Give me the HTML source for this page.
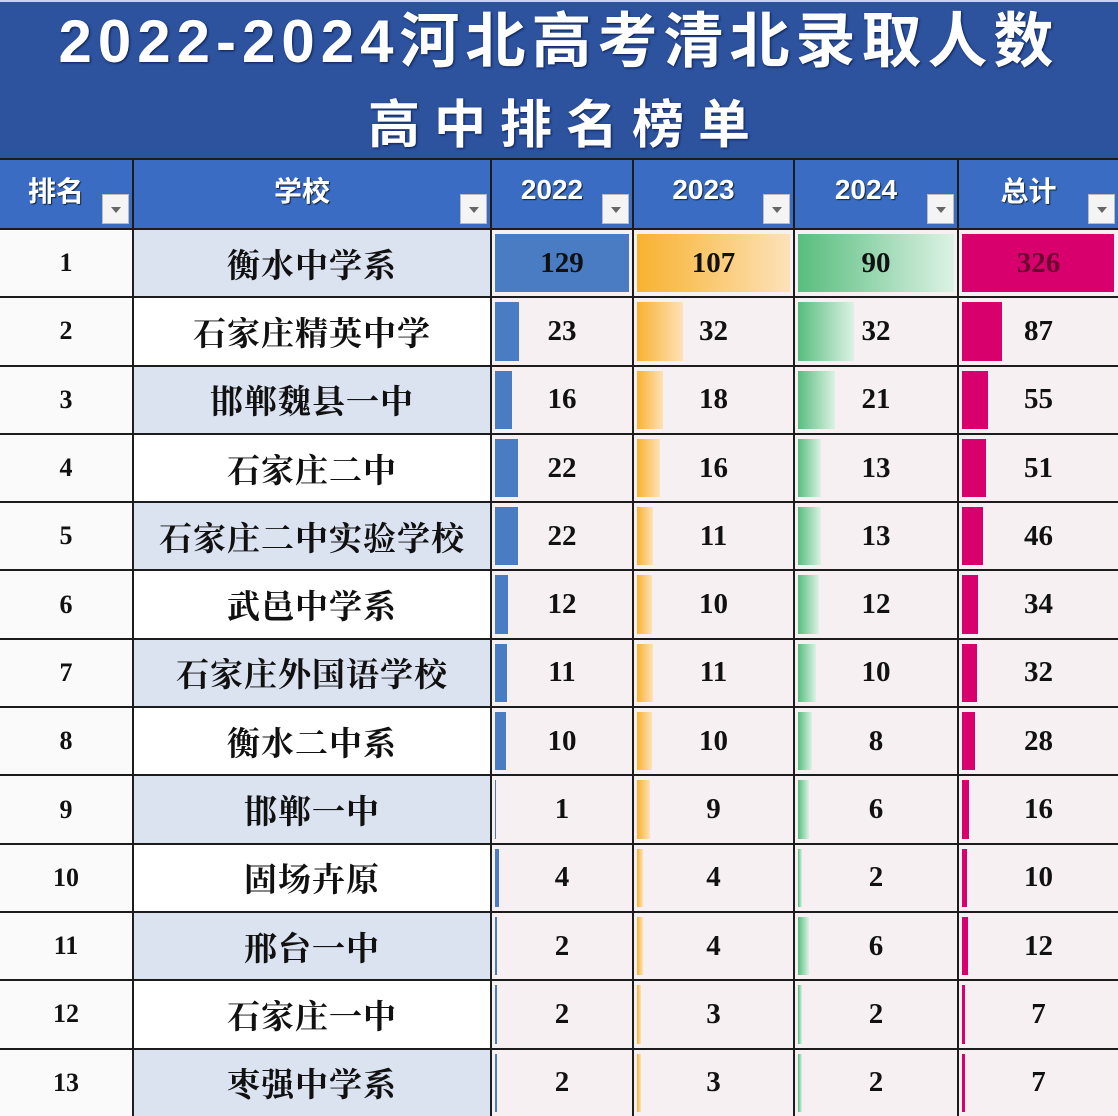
<!DOCTYPE html>
<html><head><meta charset="utf-8"><style>
*{margin:0;padding:0;box-sizing:border-box}
body{width:1118px;height:1116px;overflow:hidden;background:#fff;font-family:"Liberation Serif","Noto Serif CJK SC",serif;position:relative}
.banner{position:absolute;left:0;top:0;width:1118px;height:158px;background:#2d529e;border-top:2px solid #c8d4ea;overflow:hidden}
.t1{position:absolute;left:0;top:4px;width:1118px;text-align:center;color:#fff;font-family:"Liberation Sans","Noto Sans CJK SC",sans-serif;font-weight:bold;font-size:60px;line-height:72px;letter-spacing:6px;text-shadow:1px 1px 2px #0a1f50;white-space:nowrap}
.t2{position:absolute;left:0;top:88px;width:1118px;text-align:center;color:#fff;font-family:"Noto Sans CJK SC",sans-serif;font-weight:bold;font-size:52px;line-height:62px;letter-spacing:14px;text-indent:14px;text-shadow:1px 1px 2px #0a1f50}
.grid{position:absolute;left:0;top:158px;width:1118px;height:958px;background:#1c1c1c;padding-top:2px;display:grid;grid-template-columns:132px 356px 140px 159px 162px 159px;grid-template-rows:68px repeat(13,66.3px);gap:2px}
.h{background:#3a6cc4;color:#fff;font-family:"Noto Sans CJK SC",sans-serif;font-weight:bold;font-size:28px;position:relative;display:flex;align-items:center;justify-content:center;padding-bottom:8px;padding-right:20px;text-shadow:1px 1px 1px #123}
.h.n{font-family:"Liberation Sans",sans-serif;font-size:28px}
.h i{position:absolute;right:3px;bottom:4px;width:27px;height:30px;background:#f4f4f4;border:1px solid #bbb}
.h i:after{content:"";position:absolute;left:8px;top:12px;border-left:5px solid transparent;border-right:5px solid transparent;border-top:6px solid #666}
.c{position:relative;display:flex;align-items:center;justify-content:center;font-size:29px;font-weight:bold;color:#111;background:#f6f0f3}
.r{background:#fafafa;font-size:26px}
.s{background:#fff;font-size:33px;font-weight:bold;letter-spacing:1px}
.s.a{background:#dbe2f0}
.c span{position:relative;z-index:1}
.c b{position:absolute;left:3px;top:4px;bottom:4px}
.y2 b{background:#4a7cc4}
.y3 b{background:linear-gradient(90deg,#f8b230,#fde2b8)}
.y4 b{background:linear-gradient(90deg,#58bd7e,#dcf2e4)}
.y5 b{background:#d8006c}
</style></head><body>
<div class="banner"><div class="t1">2022-2024河北高考清北录取人数</div><div class="t2">高中排名榜单</div></div>
<div class="grid">
<div class="h">排名<i></i></div><div class="h">学校<i></i></div><div class="h n">2022<i></i></div><div class="h n">2023<i></i></div><div class="h n">2024<i></i></div><div class="h">总计<i></i></div>

<div class="c r">1</div><div class="c s a">衡水中学系</div><div class="c y2"><b style="width:134px"></b><span>129</span></div><div class="c y3"><b style="width:153px"></b><span>107</span></div><div class="c y4"><b style="width:156px"></b><span>90</span></div><div class="c y5"><b style="width:152px"></b><span style="color:#6a0030">326</span></div>
<div class="c r">2</div><div class="c s">石家庄精英中学</div><div class="c y2"><b style="width:24px"></b><span>23</span></div><div class="c y3"><b style="width:46px"></b><span>32</span></div><div class="c y4"><b style="width:56px"></b><span>32</span></div><div class="c y5"><b style="width:40px"></b><span>87</span></div>
<div class="c r">3</div><div class="c s a">邯郸魏县一中</div><div class="c y2"><b style="width:17px"></b><span>16</span></div><div class="c y3"><b style="width:26px"></b><span>18</span></div><div class="c y4"><b style="width:37px"></b><span>21</span></div><div class="c y5"><b style="width:26px"></b><span>55</span></div>
<div class="c r">4</div><div class="c s">石家庄二中</div><div class="c y2"><b style="width:23px"></b><span>22</span></div><div class="c y3"><b style="width:23px"></b><span>16</span></div><div class="c y4"><b style="width:23px"></b><span>13</span></div><div class="c y5"><b style="width:24px"></b><span>51</span></div>
<div class="c r">5</div><div class="c s a">石家庄二中实验学校</div><div class="c y2"><b style="width:23px"></b><span>22</span></div><div class="c y3"><b style="width:16px"></b><span>11</span></div><div class="c y4"><b style="width:23px"></b><span>13</span></div><div class="c y5"><b style="width:21px"></b><span>46</span></div>
<div class="c r">6</div><div class="c s">武邑中学系</div><div class="c y2"><b style="width:13px"></b><span>12</span></div><div class="c y3"><b style="width:15px"></b><span>10</span></div><div class="c y4"><b style="width:21px"></b><span>12</span></div><div class="c y5"><b style="width:16px"></b><span>34</span></div>
<div class="c r">7</div><div class="c s a">石家庄外国语学校</div><div class="c y2"><b style="width:12px"></b><span>11</span></div><div class="c y3"><b style="width:16px"></b><span>11</span></div><div class="c y4"><b style="width:18px"></b><span>10</span></div><div class="c y5"><b style="width:15px"></b><span>32</span></div>
<div class="c r">8</div><div class="c s">衡水二中系</div><div class="c y2"><b style="width:11px"></b><span>10</span></div><div class="c y3"><b style="width:15px"></b><span>10</span></div><div class="c y4"><b style="width:14px"></b><span>8</span></div><div class="c y5"><b style="width:13px"></b><span>28</span></div>
<div class="c r">9</div><div class="c s a">邯郸一中</div><div class="c y2"><b style="width:1px"></b><span>1</span></div><div class="c y3"><b style="width:13px"></b><span>9</span></div><div class="c y4"><b style="width:11px"></b><span>6</span></div><div class="c y5"><b style="width:7px"></b><span>16</span></div>
<div class="c r">10</div><div class="c s">固场卉原</div><div class="c y2"><b style="width:4px"></b><span>4</span></div><div class="c y3"><b style="width:6px"></b><span>4</span></div><div class="c y4"><b style="width:4px"></b><span>2</span></div><div class="c y5"><b style="width:5px"></b><span>10</span></div>
<div class="c r">11</div><div class="c s a">邢台一中</div><div class="c y2"><b style="width:2px"></b><span>2</span></div><div class="c y3"><b style="width:6px"></b><span>4</span></div><div class="c y4"><b style="width:11px"></b><span>6</span></div><div class="c y5"><b style="width:6px"></b><span>12</span></div>
<div class="c r">12</div><div class="c s">石家庄一中</div><div class="c y2"><b style="width:2px"></b><span>2</span></div><div class="c y3"><b style="width:4px"></b><span>3</span></div><div class="c y4"><b style="width:4px"></b><span>2</span></div><div class="c y5"><b style="width:3px"></b><span>7</span></div>
<div class="c r">13</div><div class="c s a">枣强中学系</div><div class="c y2"><b style="width:2px"></b><span>2</span></div><div class="c y3"><b style="width:4px"></b><span>3</span></div><div class="c y4"><b style="width:4px"></b><span>2</span></div><div class="c y5"><b style="width:3px"></b><span>7</span></div>
</div>
</body></html>
